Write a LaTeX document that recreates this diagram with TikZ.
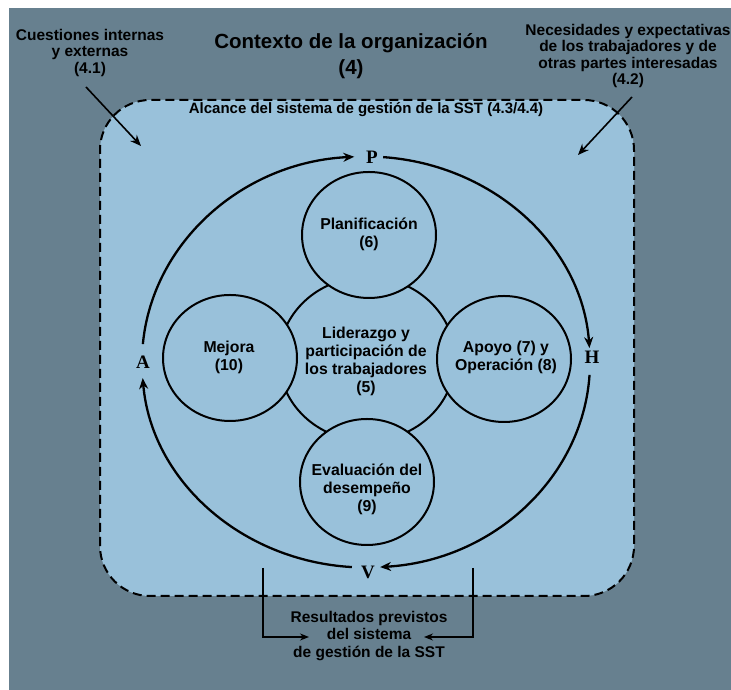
\documentclass[tikz,border=0pt]{standalone}
\usepackage{fontspec}
\setmainfont{Liberation Sans}
\newfontfamily\phvafont{Liberation Serif}
\usetikzlibrary{arrows.meta,shapes.geometric}
\definecolor{bgdark}{RGB}{103,128,143}
\definecolor{bglight}{RGB}{153,193,218}
\begin{document}
\begin{tikzpicture}[x=1pt,y=1pt,
  scopebox/.style={draw=black,line width=2pt,dash pattern=on 9pt off 5pt,rounded corners=50pt,fill=bglight},
  topic/.style={ellipse,draw=black,line width=2pt,fill=bglight,inner sep=0pt,minimum width=134pt,minimum height=126pt},
  core/.style={ellipse,draw=black,line width=2pt,fill=bglight,inner sep=0pt,minimum width=176pt,minimum height=164pt},
  intext/.style={align=center,font=\fontsize{15.8}{18}\selectfont\bfseries},
  outtext/.style={align=center,font=\fontsize{15.5}{16.5}\selectfont\bfseries},
  titletext/.style={align=center,font=\fontsize{20.5}{26}\selectfont\bfseries},
  phva/.style={font=\fontsize{19}{19}\selectfont\phvafont\bfseries,inner sep=1pt},
  cyc/.style={line width=2.3pt,-{Stealth[length=11pt,width=9pt]}},
  feed/.style={line width=1.6pt,-{Stealth[length=11pt,width=9pt]}},
  brk/.style={line width=1.3pt,-{Stealth[length=9pt,width=7pt]}}]
\useasboundingbox (0,0) rectangle (731,690);
\fill[white] (0,0) rectangle (731,690);
\fill[bgdark] (9,0) rectangle (731,682);

% scope box
\draw[scopebox] (100,94) rectangle (634,590);

% circles
\node[core] (lid) at (367,331) {};
\node[topic] (plan) at (369,455) {};
\node[topic] (mej) at (230,332) {};
\node[topic] (apo) at (504,331) {};
\node[topic] (eva) at (367,208) {};

\node[intext] (tplan) at (369,456) {Planificación\\(6)};
\node[intext] (tmej) at (229,333) {Mejora\\(10)};
\node[intext] (tapo) at (506,333) {Apoyo (7) y\\Operación (8)};
\node[intext] (tlid) at (366,329) {Liderazgo y\\participación de\\los trabajadores\\(5)};
\node[intext] (teva) at (367,201) {Evaluación del\\desempeño\\(9)};

% PHVA
\coordinate (c) at (366,328);
\node[phva] (P) at (372,533) {P};
\node[phva] (H) at (592,333) {H};
\node[phva] (A) at (143,328) {A};
\node[phva] (V) at (368,118) {V};

\draw[cyc] ([shift={(175:224 and 205.5)}]c) arc[start angle=175,end angle=93,x radius=224,y radius=205.5];
\draw[cyc] ([shift={(85.6:224 and 205.5)}]c) arc[start angle=85.6,end angle=3.9,x radius=224,y radius=205.5];
\draw[cyc] ([shift={(-3.6:224 and 205.5)}]c) arc[start angle=-3.6,end angle=-86.4,x radius=224,y radius=205.5];
\draw[cyc] ([shift={(-93.6:224 and 205.5)}]c) arc[start angle=-93.6,end angle=-175.5,x radius=224,y radius=205.5];

% top texts
\node[outtext] (cues) at (90,637) {Cuestiones internas\\y externas\\(4.1)};
\node[titletext] (ctx) at (351,634) {Contexto de la organización\\(4)};
\node[outtext] (nec) at (628,634) {Necesidades y expectativas\\de los trabajadores y de\\otras partes interesadas\\(4.2)};
\node[font=\fontsize{15}{15}\selectfont\bfseries] (alc) at (366,580) {Alcance del sistema de gestión de la SST (4.3/4.4)};

\coordinate (cuesA) at (86,603);
\coordinate (cuesB) at (141,544);
\coordinate (necA) at (632,593);
\coordinate (necB) at (578,535);
\draw[feed] (cuesA) -- (cuesB);
\draw[feed] (necA) -- (necB);

% results
\node[outtext,font=\fontsize{15.5}{17.5}\selectfont\bfseries] (res) at (369,54) {Resultados previstos\\del sistema\\de gestión de la SST};
\coordinate (lt) at (263,122);
\coordinate (lb) at (263,53);
\coordinate (rt) at (473,122);
\coordinate (rb) at (473,53);
\coordinate (ltip) at (309,53);
\coordinate (rtip) at (424,53);
\draw[brk] (lt) -- (lb) -- (ltip);
\draw[brk] (rt) -- (rb) -- (rtip);
\end{tikzpicture}
\end{document}
